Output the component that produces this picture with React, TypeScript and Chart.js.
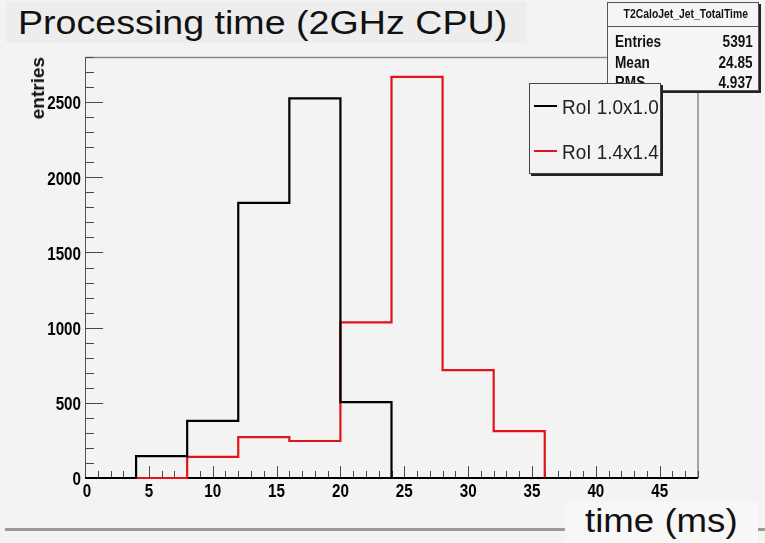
import React, { useEffect, useRef } from "react";
import { Chart, registerables } from "chart.js";

Chart.register(...registerables);

// Histogram bin edges (ms) and bin contents
const binEdges = [0, 4, 8, 12, 16, 20, 24, 28, 32, 36, 40, 44, 48];
const roi10Counts = [0, 145, 380, 1830, 2525, 505, 0, 0, 0, 0, 0, 0];
const roi14Counts = [0, 0, 140, 272, 246, 1035, 2668, 718, 312, 0, 0, 0];
const seriesLabels = ["RoI 1.0x1.0", "RoI 1.4x1.4"];
const yTickValues = [0, 500, 1000, 1500, 2000, 2500];
const xTickValues = [0, 5, 10, 15, 20, 25, 30, 35, 40, 45];
const statsTitle = "T2CaloJet_Jet_TotalTime";
const statsNames = ["Entries", "Mean", "RMS"];
const statsValues = ["5391", "24.85", "4.937"];
const xMin = 0;
const xMax = 48;
const yMin = 0;
const yMax = 2800;

const FONT = "'Liberation Sans', Arial, Helvetica, sans-serif";
const NARROW_SCALE = 0.8;

function toSteps(counts: number[]) {
  const pts = counts.map((c, i) => ({ x: binEdges[i], y: c }));
  pts.push({ x: binEdges[binEdges.length - 1], y: 0 });
  return pts;
}

function narrowText(ctx: CanvasRenderingContext2D, text: string, x: number, y: number, align: CanvasTextAlign) {
  ctx.save();
  ctx.translate(x, y);
  ctx.scale(NARROW_SCALE, 1);
  ctx.textAlign = align;
  ctx.textBaseline = "middle";
  ctx.fillText(text, 0, 0);
  ctx.restore();
}

const framePlugin = {
  id: "rootFrame",
  beforeDatasetsDraw(chart: any) {
    const { ctx, chartArea: a, scales } = chart;
    ctx.save();
    ctx.strokeStyle = "#8a8a8a";
    ctx.lineWidth = 1.5;
    ctx.beginPath();
    ctx.moveTo(a.left, a.top + 0.5);
    ctx.lineTo(a.right, a.top + 0.5);
    ctx.lineTo(a.right, a.bottom);
    ctx.stroke();
    ctx.strokeStyle = "#555";
    ctx.lineWidth = 1;
    ctx.beginPath();
    ctx.moveTo(a.left + 0.5, a.top);
    ctx.lineTo(a.left + 0.5, a.bottom);
    ctx.stroke();
    ctx.strokeStyle = "#4a4a4a";
    ctx.lineWidth = 1;
    const ys = scales.y;
    for (let v = yMin; v <= yMax; v += 100) {
      const p = Math.round(ys.getPixelForValue(v)) + 0.5;
      const len = v % 500 === 0 ? 18 : 9;
      ctx.beginPath();
      ctx.moveTo(a.left, p);
      ctx.lineTo(a.left + len, p);
      ctx.stroke();
    }
    const xs = scales.x;
    for (let v = xMin; v <= xMax; v += 1) {
      const p = Math.round(xs.getPixelForValue(v)) + 0.5;
      const len = v % 5 === 0 ? 12 : 7;
      ctx.beginPath();
      ctx.moveTo(p, a.bottom);
      ctx.lineTo(p, a.bottom - len);
      ctx.stroke();
    }
    ctx.strokeStyle = "#000";
    ctx.lineWidth = 2;
    ctx.beginPath();
    ctx.moveTo(a.left, a.bottom);
    ctx.lineTo(a.right, a.bottom);
    ctx.stroke();

    // tick labels (ROOT-style narrow bold)
    ctx.fillStyle = "#000";
    ctx.font = "bold 19px " + FONT;
    yTickValues.forEach((v) => {
      narrowText(ctx, String(v), a.left - 4, ys.getPixelForValue(v) + 2, "right");
    });
    xTickValues.forEach((v) => {
      narrowText(ctx, String(v), xs.getPixelForValue(v) + (v === 0 ? 2 : 0), a.bottom + 14, "center");
    });
    ctx.restore();
  },
};

export default function App() {
  const canvasRef = useRef<HTMLCanvasElement | null>(null);

  useEffect(() => {
    if (!canvasRef.current) return;
    const chart = new Chart(canvasRef.current, {
      type: "line",
      data: {
        datasets: [
          {
            label: seriesLabels[0],
            data: toSteps(roi10Counts),
            borderColor: "#000000",
            borderWidth: 2.2,
            pointRadius: 0,
            stepped: true,
            fill: false,
            clip: false as any,
          },
          {
            label: seriesLabels[1],
            data: toSteps(roi14Counts),
            borderColor: "#e3131b",
            borderWidth: 2.2,
            pointRadius: 0,
            stepped: true,
            fill: false,
            clip: false as any,
          },
        ],
      },
      options: {
        animation: false,
        responsive: false,
        devicePixelRatio: 1,
        layout: { padding: { top: 57, right: 67, left: 0, bottom: 0 } },
        plugins: {
          legend: { display: false },
          tooltip: { enabled: false },
          title: { display: false },
        },
        scales: {
          x: {
            type: "linear",
            min: xMin,
            max: xMax,
            grid: { display: false, drawTicks: false },
            border: { display: false },
            afterBuildTicks(s: any) {
              s.ticks = xTickValues.map((v) => ({ value: v }));
            },
            ticks: { display: false },
            afterFit(s: any) {
              s.height = 65;
            },
          },
          y: {
            type: "linear",
            min: yMin,
            max: yMax,
            grid: { display: false, drawTicks: false },
            border: { display: false },
            afterBuildTicks(s: any) {
              s.ticks = yTickValues.map((v) => ({ value: v }));
            },
            ticks: { display: false },
            afterFit(s: any) {
              s.width = 85;
            },
          },
        },
      },
      plugins: [framePlugin],
    });
    return () => chart.destroy();
  }, []);

  const legendRow = (color: string, label: string, lineY: number) => (
    <div style={{ position: "absolute", left: 0, top: lineY - 14, height: 28, width: "100%" }}>
      <div
        style={{
          position: "absolute",
          left: 4,
          top: 13,
          width: 23,
          height: 2,
          background: color,
        }}
      />
      <div
        style={{
          position: "absolute",
          left: 32,
          top: 1,
          fontSize: 21,
          lineHeight: "28px",
          color: "#222",
          whiteSpace: "nowrap",
          transformOrigin: "0 50%",
          transform: "scaleX(0.9)",
        }}
      >
        {label}
      </div>
    </div>
  );

  const narrowStyle = {
    transformOrigin: "0 50%",
    transform: `scaleX(${NARROW_SCALE})`,
    display: "inline-block",
  } as React.CSSProperties;

  return (
    <div
      style={{
        position: "fixed",
        left: 0,
        top: 0,
        width: 765,
        height: 543,
        background: "#f3f3f3",
        overflow: "hidden",
        fontFamily: FONT,
      }}
    >
      <div style={{ position: "absolute", left: 5, top: 528, width: 760, height: 3, background: "#9a9a9a" }} />
      <canvas
        ref={canvasRef}
        width={765}
        height={543}
        style={{ position: "absolute", left: 0, top: 0, width: 765, height: 543 }}
      />
      {/* Title box */}
      <div
        style={{
          position: "absolute",
          left: 6,
          top: 2,
          width: 521,
          height: 41,
          background: "#ededed",
        }}
      >
        <div
          style={{
            position: "absolute",
            left: 12,
            top: 0,
            fontSize: 33,
            lineHeight: "41px",
            color: "#111",
            whiteSpace: "nowrap",
            transformOrigin: "0 50%",
            transform: "scaleX(1.14)",
          }}
        >
          Processing time (2GHz CPU)
        </div>
      </div>
      {/* Y axis title */}
      <div
        style={{
          position: "absolute",
          left: 38,
          top: 57,
          transformOrigin: "0 0",
          transform: "rotate(-90deg) translate(-100%, -50%)",
          fontSize: 19,
          fontWeight: "bold",
          color: "#111",
          whiteSpace: "nowrap",
          lineHeight: "20px",
        }}
      >
        entries
      </div>
      {/* Stats box */}
      <div
        style={{
          position: "absolute",
          left: 607,
          top: 2,
          width: 150,
          height: 87,
          background: "#f5f5f5",
          border: "1px solid #555",
          boxShadow: "2px 2px 0 #222",
          fontWeight: "bold",
          color: "#111",
        }}
      >
        <div
          style={{
            position: "absolute",
            left: 0,
            top: 2,
            width: "100%",
            textAlign: "center",
            fontSize: 13,
            lineHeight: "18px",
            whiteSpace: "nowrap",
          }}
        >
          <span style={{ ...narrowStyle, transformOrigin: "50% 50%" }}>{statsTitle}</span>
        </div>
        <div style={{ position: "absolute", left: 0, top: 23, width: "100%", height: 1, background: "#555" }} />
        {statsNames.map((n, i) => (
          <div
            key={n}
            style={{
              position: "absolute",
              left: 7,
              right: 5,
              top: 29 + i * 20.5,
              fontSize: 17,
              lineHeight: "20px",
              whiteSpace: "nowrap",
            }}
          >
            <span style={narrowStyle}>{n}</span>
            <span style={{ position: "absolute", right: 0, fontSize: 17 }}>
              <span style={{ ...narrowStyle, transformOrigin: "100% 50%" }}>{statsValues[i]}</span>
            </span>
          </div>
        ))}
      </div>
      {/* Legend */}
      <div
        style={{
          position: "absolute",
          left: 529,
          top: 83,
          width: 130,
          height: 89,
          background: "#f3f3f3",
          border: "1px solid #444",
          boxShadow: "2px 2px 0 #222",
        }}
      >
        {legendRow("#000000", seriesLabels[0], 22)}
        {legendRow("#e3131b", seriesLabels[1], 67)}
      </div>
      {/* X axis title */}
      <div
        style={{
          position: "absolute",
          left: 565,
          top: 502,
          width: 193,
          height: 41,
          background: "#f7f7f7",
        }}
      >
        <div
          style={{
            position: "absolute",
            left: 20,
            top: 0,
            fontSize: 33,
            lineHeight: "38px",
            color: "#111",
            whiteSpace: "nowrap",
            transformOrigin: "0 50%",
            transform: "scaleX(1.11)",
          }}
        >
          time (ms)
        </div>
      </div>
    </div>
  );
}
